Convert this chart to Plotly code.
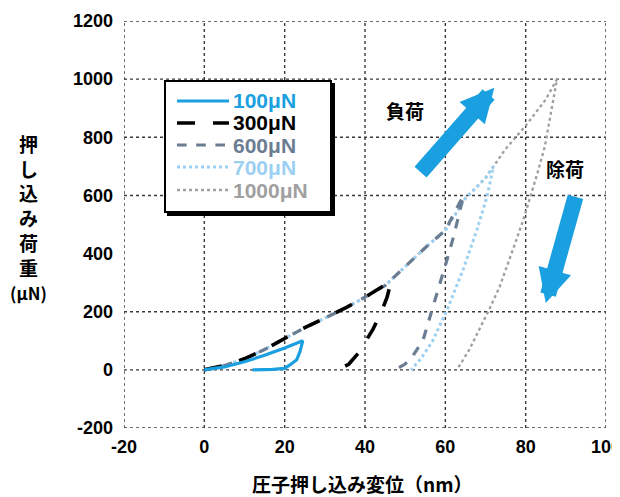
import plotly.graph_objects as go

# ---------------- data ----------------
x_ticks = [-20, 0, 20, 40, 60, 80, 100]
x_tick_labels = ["-20", "0", "20", "40", "60", "80", "100"]
y_ticks = [-200, 0, 200, 400, 600, 800, 1000, 1200]
y_tick_labels = ["-200", "0", "200", "400", "600", "800", "1000", "1200"]
y_grid_values = [-200, 0, 200, 600, 800, 1000, 1200]  # 400 line not drawn in original

series_names = ["100μN", "300μN", "600μN", "700μN", "1000μN"]

disp_100 = [0, 5, 10, 15, 20, 24.5, 23.8, 23.0, 21.3, 20.0, 17.0, 12.0]
load_100 = [0, 10, 28, 50, 75, 100, 62, 35, 17, 5, 2, 0]

disp_300 = [0, 5, 10, 15, 20, 25, 30, 35, 40, 45, 46.5, 45.5, 44, 42, 40, 38.5, 36, 34, 31]
load_300 = [0, 15, 38, 70, 108, 145, 178, 212, 250, 290, 305, 250, 197, 140, 95, 60, 20, 5, 0]

disp_600 = [0, 5, 10, 15, 20, 25, 30, 35, 40, 45, 50, 55, 60, 64.5,
            63.5, 62, 60.4, 58.5, 56.5, 55.4, 54.4, 52, 50, 47.5]
load_600 = [0, 15, 38, 70, 108, 145, 178, 212, 250, 290, 355, 420, 480, 600,
            540, 456, 378, 290, 200, 150, 100, 50, 20, 0]

disp_700 = [0, 5, 10, 15, 20, 25, 30, 35, 40, 45, 50, 55, 60, 65, 70, 72,
            70.4, 67.9, 64.4, 60.7, 56.9, 54, 51.5]
load_700 = [0, 15, 38, 70, 108, 145, 178, 212, 250, 290, 355, 420, 480, 590, 660, 700,
            597, 483, 344, 215, 101, 40, 0]

disp_1000 = [0, 5, 10, 15, 20, 25, 30, 35, 40, 45, 50, 55, 60, 65, 70, 75, 80, 85, 87.8,
             86.5, 84.8, 83, 81.3, 79.5, 77.5, 75.5, 73.5, 71, 68.5, 66, 64, 62.8]
load_1000 = [0, 15, 38, 70, 108, 145, 178, 212, 250, 290, 355, 420, 480, 590, 660, 760, 840, 930, 1000,
             900, 770, 680, 600, 520, 440, 360, 285, 210, 140, 70, 25, 0]

# arrows (tail -> head) in data units
load_arrow = (53.5, 675, 72.2, 970)
unload_arrow = (92.5, 600, 85.0, 230)

# ---------------- style ----------------
C_BLUE = "#1a9fe0"
C_BLACK = "#000000"
C_SLATE = "#6b7d92"
C_LBLUE = "#9cd0f2"
C_GRAY = "#a0a0a0"

styles = [
    dict(color=C_BLUE, width=3.2, dash="solid"),
    dict(color=C_BLACK, width=3.6, dash="longdash"),
    dict(color=C_SLATE, width=3.2, dash="dash"),
    dict(color=C_LBLUE, width=3.0, dash="dot"),
    dict(color=C_GRAY, width=2.4, dash="dot"),
]
series = [(disp_100, load_100), (disp_300, load_300), (disp_600, load_600),
          (disp_700, load_700), (disp_1000, load_1000)]

fig = go.Figure()
for i in [4, 3, 2, 1, 0]:
    xs, ys = series[i]
    fig.add_trace(go.Scatter(x=xs, y=ys, mode="lines", name=series_names[i],
                             line=styles[i], showlegend=False, hoverinfo="skip"))

OFF = 8  # page body margin
W, H = 620 - OFF, 497 - OFF
L, R, T, B = 124, 606, 21, 428  # plot area in screen pixels


def pxx(xp):
    return (xp - L) / (R - L)


def pyy(yp):
    return (B - yp) / (B - T)


shapes = []
GRID = dict(color="#3a3a3a", width=1.4, dash="dot")
for xv in x_ticks:
    shapes.append(dict(type="line", xref="x", yref="y", x0=xv, x1=xv,
                       y0=y_ticks[0], y1=y_ticks[-1], line=GRID, layer="below"))
for yv in y_grid_values:
    shapes.append(dict(type="line", xref="x", yref="y", x0=x_ticks[0], x1=x_ticks[-1],
                       y0=yv, y1=yv, line=GRID, layer="below"))

# manual legend box with shadow
lx0, lx1, ly0, ly1 = 165, 331, 81, 212
shapes.append(dict(type="rect", xref="paper", yref="paper",
                   x0=pxx(lx0 + 3), x1=pxx(lx1 + 3), y0=pyy(ly1 + 3), y1=pyy(ly0 + 3),
                   line=dict(color="black", width=2), fillcolor="black", layer="above"))
shapes.append(dict(type="rect", xref="paper", yref="paper",
                   x0=pxx(lx0), x1=pxx(lx1), y0=pyy(ly1), y1=pyy(ly0),
                   line=dict(color="black", width=2), fillcolor="white", layer="above"))
rows = [101, 123, 145, 167, 190]
annotations = []
for i, ry in enumerate(rows):
    shapes.append(dict(type="line", xref="paper", yref="paper",
                       x0=pxx(177), x1=pxx(229), y0=pyy(ry), y1=pyy(ry),
                       line=styles[i], layer="above"))
    annotations.append(dict(xref="paper", yref="paper", x=pxx(231), y=pyy(ry),
                            xanchor="left", yanchor="middle", showarrow=False,
                            text=series_names[i],
                            font=dict(family="Liberation Sans, Arial, sans-serif",
                                      size=21, color=styles[i]["color"], weight=700)))

# arrows
for (tx, ty, hx, hy) in [load_arrow, unload_arrow]:
    annotations.append(dict(x=hx, y=hy, ax=tx, ay=ty, xref="x", yref="y",
                            axref="x", ayref="y", text="", showarrow=True,
                            arrowhead=2, arrowsize=0.42, arrowwidth=16,
                            arrowcolor=C_BLUE, standoff=0))

CJK = "Noto Sans CJK JP, sans-serif"
annotations.append(dict(x=50, y=892, xref="x", yref="y", text="負荷", showarrow=False,
                        font=dict(family=CJK, size=19, color="black", weight=700)))
annotations.append(dict(x=89.8, y=691, xref="x", yref="y", text="除荷", showarrow=False,
                        font=dict(family=CJK, size=19, color="black", weight=700)))

# axis titles
annotations.append(dict(xref="paper", yref="paper", x=pxx(362), y=pyy(483),
                        text="圧子押し込み変位（nm）", showarrow=False,
                        xanchor="center", yanchor="middle",
                        font=dict(family=CJK, size=19, color="black", weight=700)))
annotations.append(dict(xref="paper", yref="paper", x=pxx(28), y=pyy(218),
                        text="押<br>し<br>込<br>み<br>荷<br>重<br>"
                             "<span style='font-size:17px'>(μN)</span>",
                        showarrow=False, xanchor="center", yanchor="middle",
                        font=dict(family=CJK, size=19, color="black", weight=700)))

TICKFONT = dict(family="Liberation Sans, Arial, sans-serif", size=18, color="black", weight=700)

fig.update_layout(
    width=W, height=H,
    margin=dict(l=L - OFF, r=(W + OFF) - R, t=T - OFF, b=(H + OFF) - B, autoexpand=False),
    paper_bgcolor="white", plot_bgcolor="white",
    showlegend=False,
    shapes=shapes, annotations=annotations,
    xaxis=dict(range=[-20, 100], tickvals=x_ticks, ticktext=x_tick_labels,
               showgrid=False, zeroline=False, showline=False, ticks="",
               tickfont=TICKFONT, ticklabelstandoff=6, ticklabeloverflow="allow",
               fixedrange=True),
    yaxis=dict(range=[-200, 1200], tickvals=y_ticks, ticktext=y_tick_labels,
               showgrid=False, zeroline=False, showline=False, ticks="",
               tickfont=TICKFONT, ticklabelstandoff=10, ticklabeloverflow="allow",
               fixedrange=True),
)

fig.write_html("out.html")
